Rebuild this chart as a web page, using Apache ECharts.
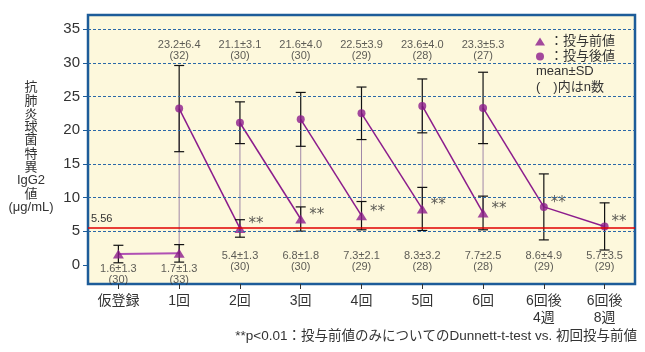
<!DOCTYPE html>
<html>
<head>
<meta charset="utf-8">
<script src="https://cdn.jsdelivr.net/npm/echarts@6/dist/echarts.min.js"></script>
<style>
  html, body { margin: 0; padding: 0; background: #fff; }
  #chart { width: 645px; height: 352px; }
</style>
</head>
<body>
<div id="chart"></div>
<script>
  // 来院ごとの値
  var categories = ['仮登録', '1回', '2回', '3回', '4回', '5回', '6回', '6回後\n4週', '6回後\n8週'];
  var preMean = [1.6, 1.7, 5.4, 6.8, 7.3, 8.3, 7.7, 8.6, 5.7];
  var preSD = [1.3, 1.3, 1.3, 1.8, 2.1, 3.2, 2.5, 4.9, 3.5];
  var preN = [30, 33, 30, 30, 29, 28, 28, 29, 29];
  var postMean = [null, 23.2, 21.1, 21.6, 22.5, 23.6, 23.3, null, null];
  var postSD = [null, 6.4, 3.1, 4.0, 3.9, 4.0, 5.3, null, null];
  var postN = [null, 32, 30, 30, 29, 28, 27, null, null];
  var signif = [false, false, true, true, true, true, true, true, true];
  var yTicks = [0, 5, 10, 15, 20, 25, 30, 35];
  var refValue = 5.56;

  var PURPLE = '#8c1c8c';
  var FONT = 'Liberation Sans, Noto Sans CJK JP, sans-serif';
  var TOP_LABEL_Y = 31.8;

  var chart = echarts.init(document.getElementById('chart'));

  function renderLinks(params, api) {
    var i = api.value(0);
    var kids = [];
    function seg(a, b, style) {
      kids.push({ type: 'line', shape: { x1: a[0], y1: a[1], x2: b[0], y2: b[1] }, style: style });
    }
    var thin = { stroke: '#a088a8', lineWidth: 1 };
    var main = { stroke: PURPLE, lineWidth: 1.5 };
    var err = { stroke: '#111', lineWidth: 1.2 };
    var pre = api.coord([i, preMean[i]]);
    if (postMean[i] != null) {
      var post = api.coord([i, postMean[i]]);
      seg(pre, post, thin);
      if (i + 1 < categories.length) seg(post, api.coord([i + 1, preMean[i + 1]]), main);
    }
    if (i === 0) seg(pre, api.coord([1, preMean[1]]), { stroke: '#b050b4', lineWidth: 2 });
    if (i === 7) seg(pre, api.coord([8, preMean[8]]), main);
    function errBar(m, s) {
      var t = api.coord([i, m + s]), b = api.coord([i, m - s]);
      seg(t, b, err);
      seg([t[0] - 5, t[1]], [t[0] + 5, t[1]], err);
      seg([b[0] - 5, b[1]], [b[0] + 5, b[1]], err);
    }
    errBar(preMean[i], preSD[i]);
    if (postMean[i] != null) errBar(postMean[i], postSD[i]);
    return { type: 'group', children: kids };
  }

  var gridLines = yTicks.filter(function (v) { return v > 0; }).map(function (v) {
    return { yAxis: v };
  });
  gridLines.push({
    yAxis: refValue,
    lineStyle: { color: '#e00000', type: 'solid', width: 1.5 },
    label: { show: true, formatter: '5.56', position: 'insideStartTop', distance: [3, 3],
      fontSize: 11, color: '#333', fontFamily: FONT }
  });

  chart.setOption({
    animation: false,
    grid: {
      left: 88, right: 10, top: 15, bottom: 68,
      show: true, backgroundColor: '#fdf8dc',
      borderColor: '#1d5c99', borderWidth: 2.5
    },
    legend: {
      orient: 'vertical', left: 530, top: 30,
      itemWidth: 10, itemHeight: 8, itemGap: 2,
      selectedMode: false,
      data: [{ name: '投与前値', icon: 'triangle' }, { name: '投与後値', icon: 'circle' }],
      formatter: function (name) { return '：' + name; },
      textStyle: { fontSize: 13, color: '#333', fontFamily: FONT }
    },
    xAxis: {
      type: 'category',
      data: categories,
      boundaryGap: true,
      axisLine: { show: false, onZero: false },
      axisTick: { show: true, alignWithLabel: true, length: 5, lineStyle: { color: '#333' } },
      axisLabel: { fontSize: 14, color: '#333', lineHeight: 17, margin: 9, fontFamily: FONT },
      splitLine: { show: false }
    },
    yAxis: {
      type: 'value',
      min: -2.85, max: 37.1,
      axisLine: { show: false },
      axisTick: { show: true, length: 5, customValues: yTicks, lineStyle: { color: '#1d5c99' } },
      axisLabel: { fontSize: 15, color: '#333', margin: 8, customValues: yTicks, fontFamily: FONT },
      splitLine: { show: false }
    },
    graphic: [
      {
        type: 'text', x: 31, y: 81,
        style: {
          text: '抗\n肺\n炎\n球\n菌\n特\n異\nIgG2\n値\n(μg/mL)',
          fontSize: 13, lineHeight: 13.3, fill: '#333', align: 'center', fontFamily: FONT
        }
      },
      { type: 'text', left: 536, top: 65,
        style: { text: 'mean±SD', fontSize: 13, fill: '#333', fontFamily: FONT } },
      { type: 'text', left: 536, top: 81,
        style: { text: '(　)内はn数', fontSize: 13, fill: '#333', fontFamily: FONT } },
      { type: 'text', right: 8, top: 330,
        style: { text: '**p<0.01：投与前値のみについてのDunnett-t-test vs. 初回投与前値',
          fontSize: 13.5, fill: '#333', fontFamily: FONT } }
    ],
    series: [
      {
        name: 'links',
        type: 'custom',
        z: 2,
        renderItem: renderLinks,
        encode: { x: 0 },
        data: categories.map(function (c, i) { return [i]; }),
        markLine: {
          silent: true,
          symbol: ['none', 'none'],
          label: { show: false },
          lineStyle: { color: '#2a68a8', type: [3, 2], width: 1 },
          data: gridLines
        }
      },
      {
        name: '投与前値',
        type: 'scatter',
        z: 4,
        symbol: 'triangle',
        symbolSize: [11, 9],
        itemStyle: { color: PURPLE },
        data: preMean.map(function (v, i) {
          return i >= 7 ? { value: [i, v], symbol: 'circle', symbolSize: 8 } : { value: [i, v] };
        }),
        label: {
          show: true, position: 'right', offset: [-2, -4],
          fontSize: 15, color: '#333', fontFamily: 'DejaVu Sans, sans-serif',
          formatter: function (p) { return signif[p.dataIndex] ? '**' : ''; }
        }
      },
      {
        name: '投与後値',
        type: 'scatter',
        z: 4,
        symbol: 'circle',
        symbolSize: 8,
        itemStyle: { color: PURPLE },
        data: postMean.map(function (v, i) { return v == null ? null : [i, v]; }).filter(Boolean)
      },
      {
        name: 'preLabels',
        type: 'scatter',
        symbolSize: 0,
        silent: true,
        data: preMean.map(function (v, i) {
          return [i, (v - preSD[i] < 2) ? -1.4 : 0.55];
        }),
        label: {
          show: true, position: 'inside', fontSize: 11, lineHeight: 11, color: '#333', fontFamily: FONT,
          formatter: function (p) {
            var i = p.dataIndex;
            return preMean[i].toFixed(1) + '±' + preSD[i].toFixed(1) + '\n(' + preN[i] + ')';
          }
        }
      },
      {
        name: 'postLabels',
        type: 'scatter',
        symbolSize: 0,
        silent: true,
        data: postMean.map(function (v, i) { return v == null ? null : [i, TOP_LABEL_Y, i]; }).filter(Boolean),
        label: {
          show: true, position: 'inside', fontSize: 11, lineHeight: 11.5, color: '#333', fontFamily: FONT,
          formatter: function (p) {
            var i = p.value[2];
            return postMean[i].toFixed(1) + '±' + postSD[i].toFixed(1) + '\n(' + postN[i] + ')';
          }
        }
      }
    ]
  });
</script>
</body>
</html>
